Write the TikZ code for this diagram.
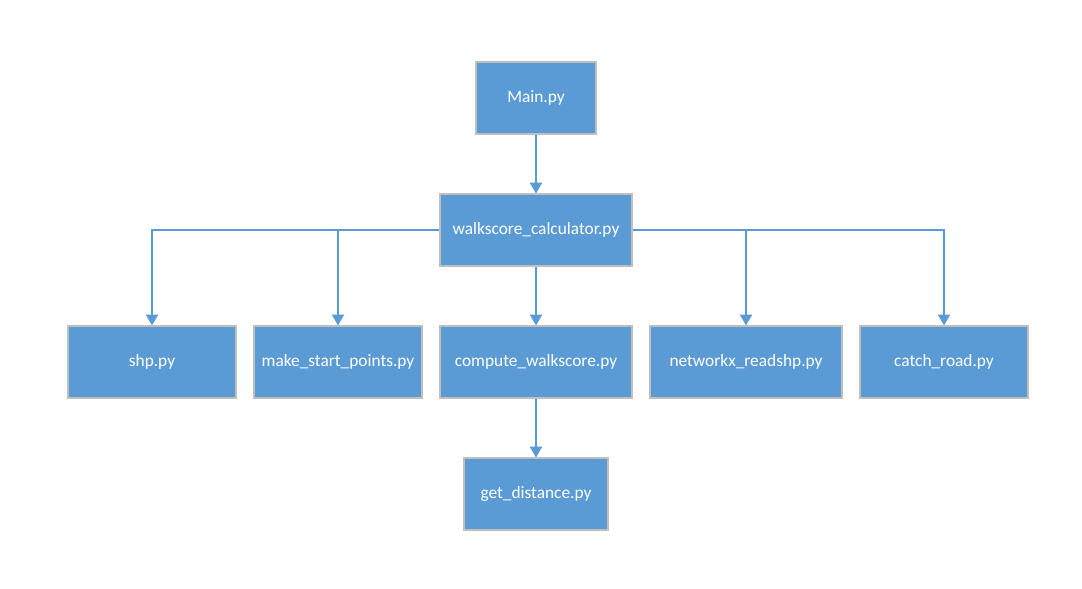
\documentclass[tikz,border=0pt]{standalone}
\usepackage{fontspec}
\setmainfont{Carlito}
\usetikzlibrary{arrows.meta}
\definecolor{boxblue}{HTML}{5B9BD5}
\definecolor{boxedge}{HTML}{BFBFBF}
\begin{document}
\begin{tikzpicture}[x=0.75pt,y=-0.75pt,
  module/.style={draw=boxedge,line width=0.9pt,fill=boxblue,text=white,
    minimum height=54pt,inner sep=0pt,font=\fontsize{13pt}{15pt}\selectfont},
  link/.style={draw=boxblue,line width=1.3pt,-{Triangle[width=9pt,length=8pt]}}]
\useasboundingbox (0,0) rectangle (1082,589);
\node[module,minimum width=90pt] (main) at (536,98) {Main.py};
\node[module,minimum width=144pt] (calc) at (536,230) {walkscore\_calculator.py};
\node[module,minimum width=126pt] (shp) at (152,362) {shp.py};
\node[module,minimum width=126pt] (msp) at (338,362) {make\_start\_points.py};
\node[module,minimum width=144pt] (cws) at (536,362) {compute\_walkscore.py};
\node[module,minimum width=144pt] (nxr) at (746,362) {networkx\_readshp.py};
\node[module,minimum width=126pt] (road) at (944,362) {catch\_road.py};
\node[module,minimum width=108pt] (dist) at (536,494) {get\_distance.py};
\draw[link] (main) -- (calc);
\draw[link] (calc.west) -| (shp.north);
\draw[link] (calc.west -| msp.north) -- (msp.north);
\draw[link] (calc) -- (cws);
\draw[link] (calc.east -| nxr.north) -- (nxr.north);
\draw[link] (calc.east) -| (road.north);
\draw[link] (cws) -- (dist);
\end{tikzpicture}
\end{document}
